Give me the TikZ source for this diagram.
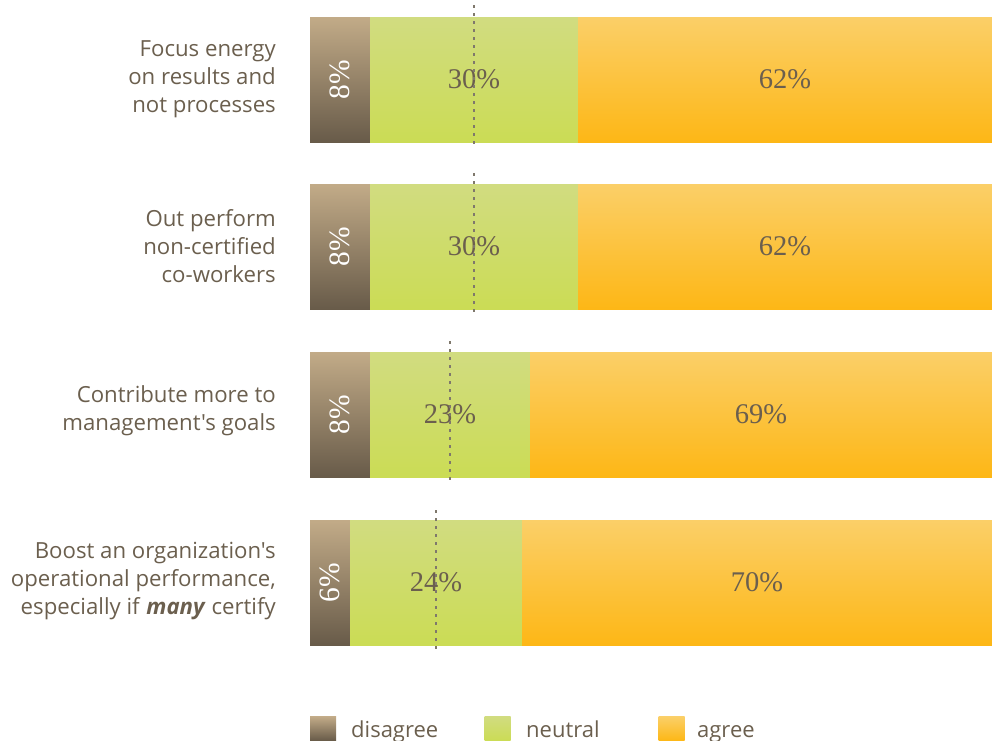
\documentclass[tikz,border=0pt]{standalone}
\usepackage{fontspec}
\setmainfont{Liberation Serif}
\newfontfamily\labfont{Open Sans}
\definecolor{txt}{HTML}{6B5F4E}
\definecolor{distop}{HTML}{C2AB88}
\definecolor{disbot}{HTML}{685B49}
\definecolor{neutop}{HTML}{D1DC80}
\definecolor{neubot}{HTML}{CBDC55}
\definecolor{agrtop}{HTML}{FBCF68}
\definecolor{agrbot}{HTML}{FDB716}
\definecolor{dashc}{HTML}{7F786C}
\tikzset{
  seg/.style={inner sep=0pt, outer sep=0pt, anchor=north west, minimum height=125pt, text=txt, font=\fontsize{28.5}{30}\selectfont},
  dis/.style={seg, top color=distop, bottom color=disbot},
  neu/.style={seg, top color=neutop, bottom color=neubot},
  agr/.style={seg, top color=agrtop, bottom color=agrbot},
  distext/.style={rotate=90, text=white, font=\fontsize{29.5}{30}\selectfont, inner sep=0pt},
  qlabel/.style={anchor=east, align=right, text=txt, inner sep=0pt, font=\labfont\fontsize{22.2}{28}\selectfont},
  midline/.style={draw=dashc, line width=1.3pt, dash pattern=on 3pt off 5pt},
  legbox/.style={inner sep=0pt, outer sep=0pt, anchor=north west, minimum width=26pt, minimum height=24pt},
  legtext/.style={anchor=base west, inner sep=0pt, text=txt, font=\labfont\fontsize{22}{26}\selectfont}
}
\begin{document}
\begin{tikzpicture}[x=1pt, y=-1pt]
\useasboundingbox (0,0) rectangle (992,740);
% bar 1
\node[dis, minimum width=60pt]  (d1) at (310,17) {};
\node[neu, minimum width=208pt] (n1) at (370,17) {30\%};
\node[agr, minimum width=414pt] (a1) at (578,17) {62\%};
\node[distext] (t1) at (d1.center) {8\%};
\node[qlabel] (l1) at (276,79.5) {Focus energy\\on results and\\not processes};
\coordinate (m1a) at (474,5);
\coordinate (m1b) at (474,148);
\draw[midline] (m1a) -- (m1b);
% bar 2
\node[dis, minimum width=60pt]  (d2) at (310,184) {};
\node[neu, minimum width=208pt] (n2) at (370,184) {30\%};
\node[agr, minimum width=414pt] (a2) at (578,184) {62\%};
\node[distext] (t2) at (d2.center) {8\%};
\node[qlabel] (l2) at (276,246) {Out perform\\non-certified\\co-workers};
\coordinate (m2a) at (474,173);
\coordinate (m2b) at (474,316);
\draw[midline] (m2a) -- (m2b);
% bar 3
\node[dis, minimum width=60pt]  (d3) at (310,352) {};
\node[neu, minimum width=160pt] (n3) at (370,352) {23\%};
\node[agr, minimum width=462pt] (a3) at (530,352) {69\%};
\node[distext] (t3) at (d3.center) {8\%};
\node[qlabel] (l3) at (276,411) {Contribute more to\\management's goals};
\coordinate (m3a) at (450,341);
\coordinate (m3b) at (450,484);
\draw[midline] (m3a) -- (m3b);
% bar 4
\node[dis, minimum width=40pt]  (d4) at (310,520) {};
\node[neu, minimum width=172pt] (n4) at (350,520) {24\%};
\node[agr, minimum width=470pt] (a4) at (522,520) {70\%};
\node[distext] (t4) at (d4.center) {6\%};
\node[qlabel] (l4) at (276,581.5) {Boost an organization's\\operational performance,\\especially if \textbf{\textit{many}} certify};
\coordinate (m4a) at (436,510);
\coordinate (m4b) at (436,652);
\draw[midline] (m4a) -- (m4b);
% legend
\node[legbox, top color=distop, bottom color=disbot] (k1) at (310,716.5) {};
\node[legtext] (k1t) at (351,737) {disagree};
\node[legbox, top color=neutop, bottom color=neubot] (k2) at (484.5,716.5) {};
\node[legtext] (k2t) at (526,737) {neutral};
\node[legbox, top color=agrtop, bottom color=agrbot] (k3) at (658.5,716.5) {};
\node[legtext] (k3t) at (697,737) {agree};
\end{tikzpicture}
\end{document}
